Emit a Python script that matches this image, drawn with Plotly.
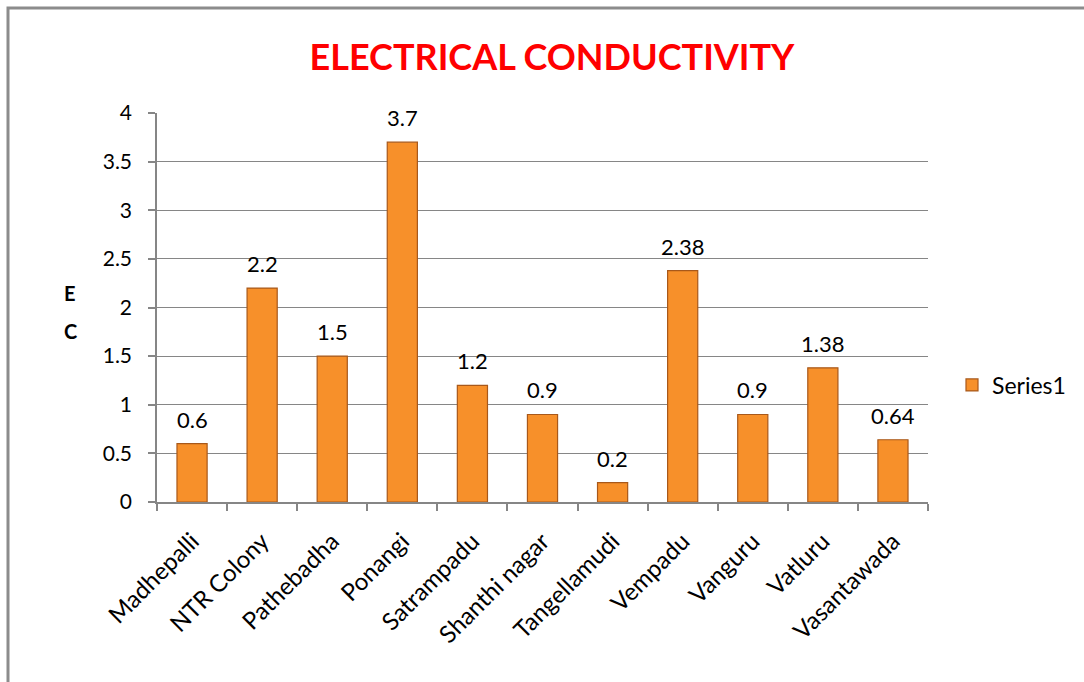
import plotly.graph_objects as go

categories = ["Madhepalli", "NTR Colony", "Pathebadha", "Ponangi", "Satrampadu",
              "Shanthi nagar", "Tangellamudi", "Vempadu", "Vanguru", "Vatluru", "Vasantawada"]
ec_values = [0.6, 2.2, 1.5, 3.7, 1.2, 0.9, 0.2, 2.38, 0.9, 1.38, 0.64]
value_labels = ["0.6", "2.2", "1.5", "3.7", "1.2", "0.9", "0.2", "2.38", "0.9", "1.38", "0.64"]
y_ticks = [0, 0.5, 1, 1.5, 2, 2.5, 3, 3.5, 4]
y_tick_text = ["0", "0.5", "1", "1.5", "2", "2.5", "3", "3.5", "4"]

W, H = 1084, 682
L, R, T, B = 157, 928, 113, 502

FONT = "Lato, Carlito, 'Liberation Sans', sans-serif"

fig = go.Figure()
fig.add_trace(go.Bar(
    x=categories, y=ec_values, name="Series1",
    marker=dict(color="#F7902A", line=dict(color="#A8581A", width=1.2)),
))

def px_x(p):
    return (p - L) / (R - L)

def px_y(p):
    return (B - p) / (B - T)

annotations = [
    dict(x=c, y=v, xref="x", yref="y", text=t, showarrow=False,
         yanchor="bottom", yshift=9,
         font=dict(size=22, family=FONT, color="black"))
    for c, v, t in zip(categories, ec_values, value_labels)
]
annotations += [
    dict(text="<b>E</b>", x=px_x(62), y=px_y(293), xref="paper", yref="paper",
         showarrow=False, font=dict(size=20, family=FONT, color="black")),
    dict(text="<b>C</b>", x=px_x(62), y=px_y(331), xref="paper", yref="paper",
         showarrow=False, font=dict(size=20, family=FONT, color="black")),
]

fig.update_layout(
    width=W, height=H,
    margin=dict(l=L, r=W - R, t=T, b=H - B, pad=0),
    paper_bgcolor="white", plot_bgcolor="white",
    bargap=0.57,
    showlegend=True,
    legend=dict(x=px_x(952), y=px_y(385), xanchor="left", yanchor="middle",
                font=dict(size=23, family=FONT, color="black"),
                itemwidth=30, bgcolor="rgba(0,0,0,0)"),
    title=dict(text="<b>ELECTRICAL CONDUCTIVITY</b>", x=552 / W, xanchor="center",
               y=1 - 57 / H, yanchor="middle",
               font=dict(size=36, color="#FF0000", family=FONT)),
    xaxis=dict(tickangle=-45, tickfont=dict(size=24, family=FONT, color="black"),
               showline=True, linecolor="#868686", linewidth=1.5,
               ticks="outside", ticklen=7, tickcolor="#868686", tickwidth=1.5,
               tickson="boundaries", showgrid=False, ticklabelstandoff=14),
    yaxis=dict(range=[0, 4], tickvals=y_ticks, ticktext=y_tick_text,
               tickfont=dict(size=21, family=FONT, color="black"),
               showline=True, linecolor="#868686", linewidth=1.5,
               ticks="outside", ticklen=7, tickcolor="#868686", tickwidth=1.5,
               showgrid=True, gridcolor="#868686", gridwidth=1,
               zeroline=False, ticklabelstandoff=12),
    annotations=annotations,
    shapes=[
        dict(type="rect", xref="paper", yref="paper",
             x0=px_x(8), y0=px_y(700), x1=px_x(1100), y1=px_y(8),
             line=dict(color="#8C8C8C", width=3), layer="below"),
    ],
)

fig.write_html("out.html")
